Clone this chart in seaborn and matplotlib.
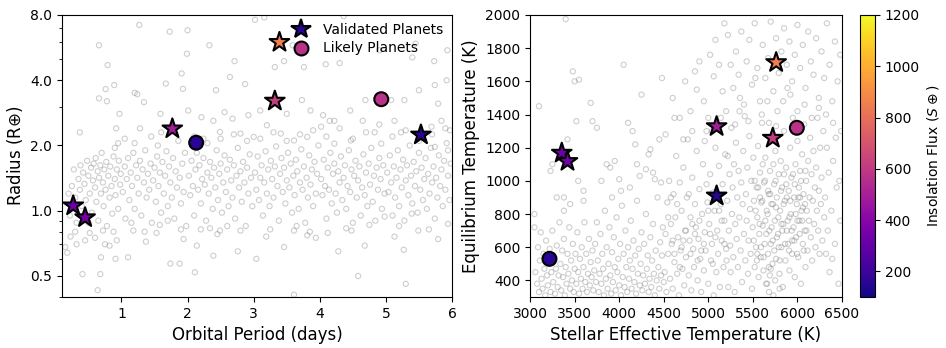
import matplotlib
matplotlib.use("Agg")
import matplotlib.pyplot as plt
import seaborn as sns
import numpy as np
from matplotlib.lines import Line2D
from matplotlib.colors import Normalize
from matplotlib.cm import ScalarMappable
from matplotlib.ticker import NullFormatter

# highlighted planets
valid_period = [5.53, 0.27, 0.45, 1.77, 3.32, 3.39]
valid_radius = [2.24, 1.055, 0.93, 2.39, 3.21, 5.99]
valid_teff = [5093, 3356, 3420, 5093, 5723, 5761]
valid_teq = [910, 1168, 1118, 1328, 1258, 1714]
valid_flux = [150, 330, 350, 490, 610, 850]

likely_period = [4.93, 2.13]
likely_radius = [3.27, 2.06]
likely_teff = [5993, 3218]
likely_teq = [1320, 530]
likely_flux = [570, 150]

# background sample, left panel (period [d], radius [R_earth])
bg_left = [
    (1.27, 7.2), (1.73, 6.7), (2.0, 6.8), (3.02, 7.6), (3.16, 7.8), (4.36, 7.9), (0.66, 5.8), (2.33, 5.8),
    (1.99, 5.3), (2.71, 4.9), (3.59, 5.8), (5.45, 5.9), (5.73, 4.9), (5.93, 5.5), (4.90, 5.5), (5.40, 5.1),
    (4.09, 4.74), (4.30, 4.8), (3.76, 4.6), (3.46, 4.9), (3.32, 4.6), (1.91, 4.3), (0.79, 4.7), (1.67, 3.86),
    (0.76, 3.64), (0.89, 3.8), (1.20, 3.5), (1.24, 3.45), (1.93, 3.65), (2.64, 4.14), (2.87, 3.84), (2.43, 3.6),
    (0.66, 3.3), (0.78, 3.2), (1.34, 3.17), (0.37, 2.3), (0.92, 2.4), (1.28, 2.4), (0.97, 2.8), (1.59, 2.8),
    (2.01, 2.9), (2.21, 2.7), (2.39, 2.6), (2.56, 2.85), (2.68, 2.66), (2.92, 2.76), (3.10, 2.9), (3.20, 2.48),
    (3.50, 2.8), (3.73, 3.24), (3.86, 2.9), (4.05, 2.76), (4.22, 2.6), (4.46, 2.9), (4.69, 3.24), (5.08, 3.24),
    (5.28, 3.24), (5.50, 3.6), (5.74, 3.8), (5.92, 4.0), (5.79, 3.12), (5.13, 2.6), (5.23, 2.3), (5.69, 2.44),
    (5.84, 2.6), (5.97, 2.35), (4.65, 2.6), (4.83, 2.3), (4.02, 2.44), (3.81, 2.19), (3.61, 2.11), (3.41, 2.27),
    (3.0, 2.19), (2.80, 2.27), (2.49, 2.31), (2.24, 2.15), (4.47, 2.11), (4.22, 2.04), (4.93, 2.04), (5.74, 1.97),
    (5.94, 1.9),
    (0.18, 0.64), (0.23, 0.76), (0.32, 0.70), (0.41, 0.51), (0.45, 0.73), (0.64, 0.43), (0.69, 0.61), (0.68, 0.51),
    (0.82, 0.69), (0.91, 0.60), (1.10, 0.61), (0.93, 0.73), (1.37, 0.72), (1.74, 0.57), (1.88, 0.57), (2.11, 0.52),
    (2.14, 0.69), (1.94, 0.74), (2.39, 0.62), (2.76, 0.65), (3.04, 0.60), (3.19, 0.76), (3.46, 0.68), (3.61, 0.41),
    (3.81, 0.77), (4.28, 0.65), (4.58, 0.50), (4.68, 0.69), (5.30, 0.46), (5.27, 0.66), (5.79, 0.74), (5.49, 0.81),
    (5.13, 0.76), (4.12, 0.79), (3.94, 0.75), (3.61, 0.81), (2.80, 0.81), (2.49, 0.81), (2.34, 0.83), (1.58, 0.86),
    (1.18, 0.81), (1.53, 0.79), (0.72, 0.81), (0.52, 0.79), (5.94, 0.87), (4.48, 0.81), (4.98, 0.94), (5.39, 0.97),
    (0.15, 0.68), (0.2, 1.2), (0.22, 0.95), (0.25, 1.3), (0.28, 1.55), (0.3, 1.15), (0.32, 0.88), (0.35, 1.4),
    (0.37, 1.25), (0.38, 1.62), (0.4, 1.05), (0.42, 1.5), (0.44, 1.33), (0.46, 1.12), (0.48, 1.7), (0.5, 1.45),
    (0.52, 1.2), (0.54, 1.58), (0.55, 0.98), (0.57, 1.38), (0.58, 1.65), (0.6, 1.28), (0.61, 1.75), (0.62, 1.1),
    (0.64, 1.52), (0.65, 0.9), (0.66, 1.42), (0.68, 1.62), (0.69, 1.2), (0.7, 1.85), (0.72, 1.35), (0.73, 1.05),
    (0.74, 1.55), (0.76, 1.25), (0.77, 1.68), (0.78, 0.85), (0.8, 1.45), (0.82, 1.15), (0.83, 1.6), (0.85, 1.3),
    (0.86, 0.97), (0.88, 1.78), (0.9, 1.4), (0.91, 1.18), (0.93, 1.55), (0.95, 1.02), (0.96, 1.7), (0.98, 1.32),
    (0.99, 1.48), (0.6, 0.75), (0.75, 0.7), (0.88, 0.8), (0.5, 0.88), (0.3, 0.8), (0.9, 1.95), (0.95, 2.05),
    (1.02, 1.22), (1.05, 1.6), (1.06, 0.92), (1.08, 1.4), (1.1, 1.75), (1.12, 1.12), (1.14, 1.5), (1.16, 1.3),
    (1.18, 1.85), (1.2, 1.02), (1.22, 1.62), (1.24, 1.42), (1.26, 1.2), (1.28, 1.7), (1.3, 0.95), (1.32, 1.55),
    (1.34, 1.35), (1.36, 1.9), (1.38, 1.15), (1.4, 1.48), (1.42, 1.25), (1.44, 1.65), (1.46, 0.88), (1.48, 1.38),
    (1.5, 1.58), (1.52, 1.1), (1.54, 1.78), (1.56, 1.3), (1.58, 1.5), (1.6, 0.98), (1.62, 1.68), (1.64, 1.2),
    (1.66, 1.45), (1.68, 1.88), (1.7, 1.05), (1.72, 1.6), (1.74, 1.35), (1.76, 1.15), (1.78, 1.75), (1.8, 0.92),
    (1.82, 1.52), (1.84, 1.28), (1.86, 2.1), (1.88, 1.42), (1.9, 1.08), (1.92, 1.65), (1.94, 1.22), (1.96, 1.85),
    (1.98, 0.85), (1.2, 2.05), (1.45, 2.2), (1.6, 2.3), (1.35, 0.8), (1.7, 0.9), (1.9, 0.82), (1.15, 0.88),
    (1.55, 2.0), (1.05, 2.15),
    (2.02, 1.45), (2.04, 1.18), (2.06, 1.7), (2.08, 1.3), (2.1, 0.95), (2.12, 1.55), (2.14, 1.85), (2.16, 1.25),
    (2.18, 1.62), (2.2, 1.08), (2.22, 1.4), (2.24, 1.75), (2.26, 1.32), (2.28, 0.9), (2.3, 1.5), (2.32, 1.2),
    (2.34, 1.68), (2.36, 1.42), (2.38, 1.02), (2.4, 1.58), (2.42, 1.28), (2.44, 1.9), (2.46, 1.12), (2.48, 1.48),
    (2.5, 1.65), (2.52, 0.98), (2.54, 1.35), (2.56, 1.8), (2.58, 1.22), (2.6, 1.55), (2.62, 1.05), (2.64, 1.72),
    (2.66, 1.38), (2.68, 1.15), (2.7, 1.62), (2.72, 0.92), (2.74, 1.45), (2.76, 1.95), (2.78, 1.28), (2.8, 1.52),
    (2.82, 1.1), (2.84, 1.68), (2.86, 1.35), (2.88, 0.85), (2.9, 1.58), (2.92, 1.2), (2.94, 1.82), (2.96, 1.42),
    (2.98, 1.05), (2.1, 2.2), (2.3, 2.05), (2.5, 2.15), (2.7, 2.25), (2.9, 2.1), (2.2, 0.82), (2.6, 0.85),
    (2.45, 0.78),
    (3.02, 1.5), (3.04, 1.25), (3.06, 1.78), (3.08, 1.12), (3.1, 1.42), (3.12, 1.62), (3.14, 0.95), (3.16, 1.35),
    (3.18, 1.88), (3.2, 1.2), (3.22, 1.55), (3.24, 1.05), (3.26, 1.7), (3.28, 1.4), (3.3, 1.15), (3.32, 1.6),
    (3.34, 1.98), (3.36, 1.3), (3.38, 0.9), (3.4, 1.48), (3.42, 1.75), (3.44, 1.22), (3.46, 1.58), (3.48, 1.08),
    (3.5, 1.38), (3.52, 1.85), (3.54, 1.28), (3.56, 1.65), (3.58, 0.98), (3.6, 1.45), (3.62, 1.18), (3.64, 1.72),
    (3.66, 1.52), (3.68, 1.02), (3.7, 1.35), (3.72, 1.92), (3.74, 1.25), (3.76, 1.6), (3.78, 0.88), (3.8, 1.42),
    (3.82, 1.15), (3.84, 1.8), (3.86, 1.32), (3.88, 1.55), (3.9, 1.05), (3.92, 1.68), (3.94, 1.2), (3.96, 1.48),
    (3.98, 2.0), (3.1, 2.15), (3.3, 2.3), (3.5, 2.1), (3.7, 2.25), (3.9, 2.35), (3.25, 0.82), (3.65, 0.85),
    (3.85, 0.8),
    (4.02, 1.4), (4.04, 1.18), (4.06, 1.72), (4.08, 1.3), (4.1, 0.92), (4.12, 1.58), (4.14, 1.25), (4.16, 1.85),
    (4.18, 1.08), (4.2, 1.48), (4.22, 1.65), (4.24, 1.2), (4.26, 0.98), (4.28, 1.52), (4.3, 1.35), (4.32, 1.78),
    (4.34, 1.12), (4.36, 1.42), (4.38, 1.62), (4.4, 1.02), (4.42, 1.3), (4.44, 1.9), (4.46, 1.22), (4.48, 1.55),
    (4.5, 0.88), (4.52, 1.45), (4.54, 1.7), (4.56, 1.15), (4.58, 1.38), (4.6, 1.6), (4.62, 0.95), (4.64, 1.28),
    (4.66, 1.82), (4.68, 1.18), (4.7, 1.5), (4.72, 1.05), (4.74, 1.65), (4.76, 1.32), (4.78, 1.95), (4.8, 1.1),
    (4.82, 1.45), (4.84, 0.9), (4.86, 1.58), (4.88, 1.25), (4.9, 1.75), (4.92, 1.4), (4.94, 1.02), (4.96, 1.62),
    (4.98, 1.2), (4.1, 2.2), (4.3, 2.4), (4.5, 2.15), (4.7, 2.3), (4.9, 2.5), (4.4, 0.83), (4.75, 0.86),
    (4.15, 2.6),
    (5.02, 1.5), (5.04, 1.22), (5.06, 1.8), (5.08, 1.35), (5.1, 0.95), (5.12, 1.6), (5.14, 1.15), (5.16, 1.42),
    (5.18, 1.9), (5.2, 1.05), (5.22, 1.55), (5.24, 1.28), (5.26, 1.72), (5.28, 0.9), (5.3, 1.38), (5.32, 1.62),
    (5.34, 1.18), (5.36, 2.0), (5.38, 1.45), (5.4, 1.08), (5.42, 1.68), (5.44, 1.3), (5.46, 1.52), (5.48, 0.98),
    (5.5, 1.85), (5.52, 1.25), (5.54, 1.58), (5.56, 1.12), (5.58, 1.4), (5.6, 1.75), (5.62, 1.02), (5.64, 1.48),
    (5.66, 1.2), (5.68, 1.95), (5.7, 1.35), (5.72, 1.6), (5.74, 0.92), (5.76, 1.42), (5.78, 1.15), (5.8, 1.8),
    (5.82, 1.3), (5.84, 1.55), (5.86, 1.05), (5.88, 1.7), (5.9, 1.25), (5.92, 2.05), (5.94, 1.45), (5.96, 1.12),
    (5.98, 1.65), (5.1, 2.2), (5.3, 2.35), (5.5, 2.1), (5.7, 2.25), (5.9, 2.4), (5.2, 0.85), (5.65, 0.82),
]

# background sample, right panel (Teff [K], Teq [K])
bg_right = [
    (3050, 720), (3060, 450), (3080, 380), (3090, 600), (3100, 330), (3110, 520), (3120, 690), (3130, 410),
    (3140, 350), (3150, 560), (3160, 470), (3170, 310), (3180, 640), (3190, 430), (3200, 370), (3210, 500),
    (3220, 590), (3230, 330), (3240, 450), (3250, 700), (3260, 390), (3270, 540), (3280, 320), (3290, 470),
    (3300, 610), (3310, 360), (3320, 430), (3330, 750), (3340, 500), (3350, 340), (3360, 580), (3370, 420),
    (3380, 650), (3390, 310), (3400, 480), (3410, 380), (3420, 560), (3430, 440), (3440, 720), (3450, 350),
    (3460, 520), (3470, 400), (3480, 620), (3490, 330), (3500, 470), (3510, 560), (3520, 380), (3530, 690),
    (3540, 450), (3550, 320), (3560, 530), (3570, 410), (3580, 600), (3590, 350), (3600, 480), (3610, 750),
    (3620, 390), (3630, 560), (3640, 330), (3650, 440), (3660, 650), (3670, 370), (3680, 510), (3690, 420),
    (3700, 580),
    (3100, 1450), (3230, 1060), (3300, 900), (3380, 900), (3420, 1250), (3480, 1660), (3500, 1600), (3550, 1610),
    (3540, 1000), (3600, 940), (3450, 860), (3380, 820), (3250, 1100), (3520, 1360), (3400, 1975), (3680, 1470),
    (3700, 1360), (3600, 880), (3050, 800),
    (3710, 340), (3720, 460), (3730, 620), (3740, 390), (3750, 750), (3760, 520), (3770, 330), (3780, 440),
    (3790, 680), (3800, 380), (3810, 560), (3820, 470), (3830, 310), (3840, 820), (3850, 410), (3860, 600),
    (3870, 350), (3880, 500), (3890, 720), (3900, 430), (3910, 320), (3920, 570), (3930, 390), (3940, 660),
    (3950, 480), (3960, 340), (3970, 780), (3980, 450), (3990, 530), (4000, 370), (4010, 620), (4020, 310),
    (4030, 850), (4040, 420), (4050, 560), (4060, 360), (4070, 700), (4080, 480), (4090, 330), (4100, 600),
    (4110, 410), (4120, 520), (4130, 760), (4140, 350), (4150, 470), (4160, 640), (4170, 390), (4180, 550),
    (4190, 320), (4200, 880), (4210, 440), (4220, 590), (4230, 370), (4240, 500), (4250, 690), (4260, 340),
    (4270, 430), (4280, 620), (4290, 380), (4300, 800), (4310, 470), (4320, 550), (4330, 330), (4340, 410),
    (4350, 660), (4360, 360), (4370, 520), (4380, 740), (4390, 440), (4400, 310), (4410, 580), (4420, 400),
    (4430, 900), (4440, 480), (4450, 350), (4460, 630), (4470, 430), (4480, 550), (4490, 720), (4500, 390),
    (3800, 1000), (3900, 1080), (3950, 1120), (4000, 1010), (4050, 1700), (4100, 1350), (4150, 1300), (4200, 1100),
    (4250, 1520), (4300, 1070), (4350, 1190), (4400, 1010), (4450, 1250), (4480, 1620), (3750, 1320), (3860, 1100),
    (4020, 940), (4120, 960), (4230, 1030), (4380, 1050), (4470, 990), (4330, 1160), (3920, 900), (4180, 1220),
    (4510, 450), (4520, 680), (4530, 330), (4540, 870), (4550, 560), (4560, 1000), (4570, 410), (4580, 740),
    (4590, 620), (4600, 350), (4610, 920), (4620, 510), (4630, 780), (4640, 1150), (4650, 440), (4660, 660),
    (4670, 310), (4680, 990), (4690, 580), (4700, 820), (4710, 470), (4720, 1080), (4730, 370), (4740, 700),
    (4750, 540), (4760, 900), (4770, 1250), (4780, 430), (4790, 640), (4800, 780), (4810, 340), (4820, 1020),
    (4830, 590), (4840, 480), (4850, 860), (4860, 720), (4870, 1180), (4880, 400), (4890, 650), (4900, 950),
    (4910, 530), (4920, 330), (4930, 800), (4940, 1100), (4950, 460), (4960, 690), (4970, 580), (4980, 1300),
    (4990, 870), (5000, 380), (5010, 740), (5020, 1040), (5030, 520), (5040, 620), (5050, 930), (5060, 310),
    (5070, 820), (5080, 1200), (5090, 450), (5100, 700), (5110, 560), (5120, 1090), (5130, 360), (5140, 860),
    (5150, 640), (5160, 980), (5170, 480), (5180, 760), (5190, 1160), (5200, 590),
    (4550, 780), (4600, 640), (4650, 860), (4700, 600), (4750, 700), (4800, 560), (4850, 680), (4900, 760),
    (4950, 620), (5000, 820), (5050, 500), (5100, 900), (5150, 760), (4620, 560), (4720, 640), (4820, 740),
    (4920, 580), (5020, 680), (5120, 820), (4580, 900), (4680, 480), (4780, 920), (4880, 520), (4980, 980),
    (5080, 660), (5180, 620),
    (4520, 1280), (4600, 1500), (4680, 1380), (4740, 1600), (4800, 1420), (4850, 1660), (4870, 1550), (4900, 1720),
    (4950, 1480), (5000, 1380), (5020, 1760), (5060, 1630), (5080, 1850), (5120, 1700), (5160, 1540), (5180, 1950),
    (5200, 1420), (4720, 1250), (4960, 1240), (5040, 1300), (5140, 1380), (4620, 1380), (4820, 1300),
    (5205, 520), (5212, 880), (5218, 1150), (5225, 360), (5230, 700), (5238, 1040), (5245, 610), (5250, 450),
    (5258, 1320), (5265, 800), (5272, 960), (5280, 540), (5288, 1100), (5295, 330), (5302, 740), (5310, 1230),
    (5318, 650), (5325, 900), (5332, 480), (5340, 1060), (5348, 780), (5355, 1500), (5362, 580), (5370, 990),
    (5378, 390), (5385, 860), (5392, 1180), (5400, 680), (5408, 1390), (5415, 520), (5422, 920), (5430, 760),
    (5438, 1080), (5445, 440), (5452, 640), (5460, 1270), (5468, 830), (5475, 560), (5482, 1000), (5490, 350),
    (5498, 720), (5505, 1140), (5512, 880), (5520, 480), (5528, 1620), (5535, 600), (5542, 960), (5550, 780),
    (5558, 1210), (5565, 420), (5572, 680), (5580, 1050), (5588, 540), (5595, 870), (5602, 1350), (5610, 730),
    (5618, 460), (5625, 990), (5632, 620), (5640, 1140), (5648, 380), (5655, 820), (5662, 1480), (5670, 560),
    (5678, 920), (5685, 700), (5692, 1060), (5700, 470), (5708, 860), (5715, 1260), (5722, 640), (5730, 310),
    (5738, 980), (5745, 760), (5752, 1180), (5760, 530), (5768, 900), (5775, 1420), (5782, 680), (5790, 1040),
    (5798, 440), (5805, 820), (5812, 1120), (5820, 600), (5828, 960), (5835, 360), (5842, 740), (5850, 1300),
    (5858, 880), (5865, 520), (5872, 1080), (5880, 700), (5888, 1560), (5895, 620), (5902, 940), (5910, 460),
    (5918, 1200), (5925, 800), (5932, 1020), (5940, 560), (5948, 1380), (5955, 720), (5962, 900), (5970, 420),
    (5978, 1100), (5985, 660), (5992, 860), (6000, 1240), (6008, 540), (6015, 960), (6022, 760), (6030, 1060),
    (6038, 380), (6045, 820), (6052, 1160), (6060, 620), (6068, 920), (6075, 1340), (6082, 700), (6090, 480),
    (6098, 1000), (6105, 820), (6112, 580), (6120, 1120), (6128, 760), (6135, 900), (6142, 1260), (6150, 660),
    (6158, 1040), (6165, 520), (6172, 880), (6180, 1180), (6188, 740), (6195, 960), (6202, 600), (6210, 1080),
    (6218, 820), (6225, 1380), (6232, 700), (6240, 940), (6248, 560), (6255, 1200), (6262, 860), (6270, 1020),
    (6280, 640), (6290, 1300), (6300, 780),
    (5510, 640), (5530, 820), (5545, 520), (5560, 960), (5575, 740), (5590, 600), (5605, 880), (5620, 540),
    (5635, 1000), (5650, 680), (5665, 800), (5680, 480), (5695, 920), (5710, 720), (5725, 860), (5740, 580),
    (5755, 1000), (5770, 660), (5785, 780), (5800, 520), (5815, 940), (5830, 700), (5845, 860), (5860, 620),
    (5875, 980), (5890, 760), (5905, 580), (5920, 880), (5935, 700), (5950, 1040), (5965, 640), (5980, 800),
    (5995, 560), (6010, 900), (6025, 680), (6040, 1000), (6055, 760), (6070, 580), (6085, 860), (6100, 700),
    (5520, 1000), (5580, 900), (5640, 760), (5700, 620), (5760, 840), (5820, 740), (5880, 900), (5940, 640),
    (6000, 760), (6060, 840), (5550, 560), (5610, 1100), (5670, 940), (5730, 1100), (5790, 600), (5850, 1040),
    (5910, 780), (5970, 980), (6030, 900), (6090, 1060), (5690, 430), (5750, 400), (5800, 350), (5680, 330),
    (5720, 500), (5660, 380),
    (5220, 1880), (5250, 1700), (5280, 1560), (5310, 1780), (5340, 1640), (5370, 1900), (5400, 1460), (5430, 1720),
    (5460, 1850), (5490, 1580), (5520, 1950), (5550, 1680), (5580, 1480), (5610, 1820), (5640, 1620), (5670, 1740),
    (5700, 1960), (5730, 1540), (5760, 1860), (5790, 1650), (5820, 1780), (5850, 1920), (5880, 1700), (5910, 1840),
    (5940, 1600), (5970, 1760), (6000, 1940), (6030, 1680), (6060, 1820), (6090, 1560), (6120, 1900), (6150, 1720),
    (6180, 1640), (6210, 1860), (6240, 1500), (6270, 1780), (6300, 1620), (6330, 1950), (6360, 1700), (6390, 1480),
    (6420, 1840), (6450, 1600), (6480, 1760), (5600, 1400), (5680, 1350), (5760, 1330), (5840, 1480), (5920, 1520),
    (6000, 1420), (6080, 1460), (6160, 1380), (6240, 1440), (6320, 1400), (6400, 1350), (5300, 1340), (5450, 1360),
    (5350, 1420),
    (6310, 900), (6320, 560), (6330, 1200), (6340, 700), (6350, 1050), (6360, 450), (6380, 820), (6400, 1120),
    (6420, 620), (6440, 960), (6460, 380), (6480, 760), (6490, 1300), (6470, 1000), (6430, 1260), (6390, 530),
]

bg_period, bg_radius = map(list, zip(*bg_left))
bg_teff, bg_teq = map(list, zip(*bg_right))

cmap = "plasma"
flux_lim = (100, 1200)

fig = plt.figure(figsize=(9.46, 3.48), dpi=100)
ax1 = fig.add_axes([0.0655, 0.1466, 0.4123, 0.8103])
ax2 = fig.add_axes([0.5603, 0.1466, 0.3298, 0.8103])
cax = fig.add_axes([0.9091, 0.1466, 0.0159, 0.8103])

bg_kws = dict(color="0.5", facecolors="none", edgecolor="0.45", alpha=0.35, s=14, linewidth=0.8, legend=False)
star_kws = dict(palette=cmap, hue_norm=flux_lim, marker="*", s=220, edgecolor="black", linewidth=1.5,
                legend=False, zorder=3)
circ_kws = dict(palette=cmap, hue_norm=flux_lim, marker="o", s=100, edgecolor="black", linewidth=1.5,
                legend=False, zorder=3)

# left panel: period vs radius
sns.scatterplot(x=bg_period, y=bg_radius, ax=ax1, **bg_kws)
sns.scatterplot(x=valid_period, y=valid_radius, hue=valid_flux, ax=ax1, **star_kws)
sns.scatterplot(x=likely_period, y=likely_radius, hue=likely_flux, ax=ax1, **circ_kws)
ax1.set_yscale("log")
ax1.set_xlim(0.1, 6)
ax1.set_ylim(0.4, 8.0)
ax1.set_yticks([0.5, 1.0, 2.0, 4.0, 8.0])
ax1.set_yticklabels(["0.5", "1.0", "2.0", "4.0", "8.0"])
ax1.yaxis.set_minor_formatter(NullFormatter())
ax1.set_xticks([1, 2, 3, 4, 5, 6])
ax1.set_xlabel("Orbital Period (days)", fontsize=12)
ax1.set_ylabel(r"Radius (R$\oplus$)", fontsize=12)

norm = Normalize(*flux_lim)
sm = plt.get_cmap(cmap)
handles = [
    Line2D([], [], marker="*", ls="", ms=15, mfc=sm(norm(valid_flux[0])), mec="black", mew=1.5,
           label="Validated Planets"),
    Line2D([], [], marker="o", ls="", ms=10, mfc=sm(norm(likely_flux[0])), mec="black", mew=1.5,
           label="Likely Planets"),
]
ax1.legend(handles=handles, loc="upper right", frameon=False, fontsize=10, handletextpad=0.6,
           borderaxespad=0.2, labelspacing=0.3)

# right panel: Teff vs Teq
sns.scatterplot(x=bg_teff, y=bg_teq, ax=ax2, **bg_kws)
sns.scatterplot(x=valid_teff, y=valid_teq, hue=valid_flux, ax=ax2, **star_kws)
sns.scatterplot(x=likely_teff, y=likely_teq, hue=likely_flux, ax=ax2, **circ_kws)
ax2.set_xlim(3000, 6500)
ax2.set_ylim(300, 2000)
ax2.set_xticks(np.arange(3000, 6501, 500))
ax2.set_yticks(np.arange(400, 2001, 200))
ax2.set_xlabel("Stellar Effective Temperature (K)", fontsize=12)
ax2.set_ylabel("Equilibrium Temperature (K)", fontsize=12)

cb = fig.colorbar(ScalarMappable(norm=norm, cmap=cmap), cax=cax)
cb.set_ticks([200, 400, 600, 800, 1000, 1200])
cb.set_label(r"Insolation Flux ($S\oplus$)", fontsize=10)

fig.savefig("out.png", dpi=100)
